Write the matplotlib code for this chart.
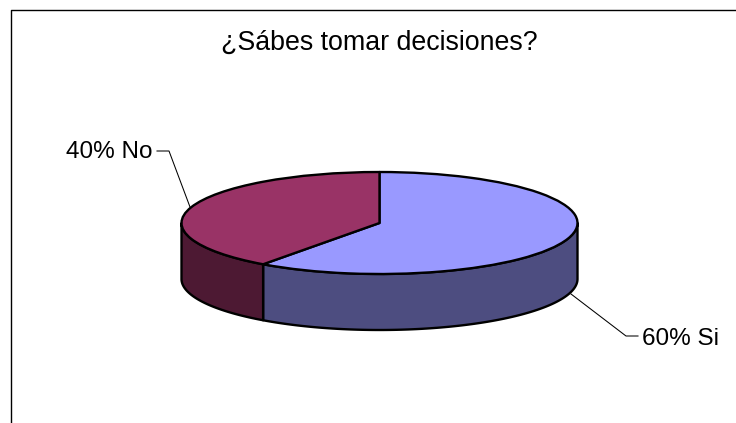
import numpy as np
import matplotlib
matplotlib.use("Agg")
import matplotlib.pyplot as plt

# Data
title = "¿Sábes tomar decisiones?"
categories = ["Si", "No"]
values = [60, 40]
labels = ["60% Si", "40% No"]
top_colors = ["#9999FF", "#993366"]
side_colors = ["#4D4D80", "#4D1933"]

# Layout in pixels
W, H = 736, 423
CX, CY, RX, RY, DEPTH = 379.5, 223.0, 198.0, 51.0, 56.0

plt.rcParams["font.family"] = ["Liberation Sans", "DejaVu Sans"]
fig = plt.figure(figsize=(W / 100, H / 100), dpi=100, facecolor="white")
ax = fig.add_axes([0, 0, 1, 1])

wedges, _ = ax.pie(values, colors=top_colors, startangle=90, counterclock=False,
                   radius=1.0, center=(0, 0),
                   wedgeprops=dict(edgecolor="black", linewidth=1.7, joinstyle="round", zorder=3))
ax.set_aspect("auto")
ax.set_xlim((0 - CX) / RX, (W - CX) / RX)
ax.set_ylim((CY - H) / RY, CY / RY)
ax.axis("off")
for w in wedges:
    w.set_clip_on(False)

depth = DEPTH / RY

# Side walls: visible lower half of the rim, clockwise from the top of the pie
fractions = np.cumsum([0] + values) / sum(values) * 360.0
for i in range(len(values)):
    a0, a1 = fractions[i], fractions[i + 1]
    a0v, a1v = max(a0, 90.0), min(a1, 270.0)
    if a1v <= a0v:
        continue
    t = np.radians(np.linspace(a0v, a1v, 120))
    x, y = np.sin(t), np.cos(t)
    ax.fill(np.r_[x, x[::-1]], np.r_[y, y[::-1] - depth], facecolor=side_colors[i],
            edgecolor="black", linewidth=1.7, joinstyle="round", zorder=2)

def px(x, y):
    return (x - CX) / RX, (CY - y) / RY

# Leader lines
for pts in ([(571, 294), (626, 336), (638, 336)], [(157, 151), (169, 151), (190, 207)]):
    xs, ys = zip(*[px(*p) for p in pts])
    ax.plot(xs, ys, color="black", linewidth=0.75, zorder=1)

ax.text(*px(642, 336), labels[0], fontsize=17.5, ha="left", va="center_baseline", color="black")
ax.text(*px(153, 150), labels[1], fontsize=17.5, ha="right", va="center_baseline", color="black")
ax.text(*px(379.5, 40), title, fontsize=19.3, ha="center", va="center_baseline", color="black")

# Chart frame, cut by the image on the right and bottom
fx, fy = zip(*[px(10.5, 423), px(10.5, 10.5), px(736, 10.5)])
ax.plot(fx, fy, color="black", linewidth=1.0, zorder=1)

fig.savefig("out.png", dpi=100, facecolor="white")
